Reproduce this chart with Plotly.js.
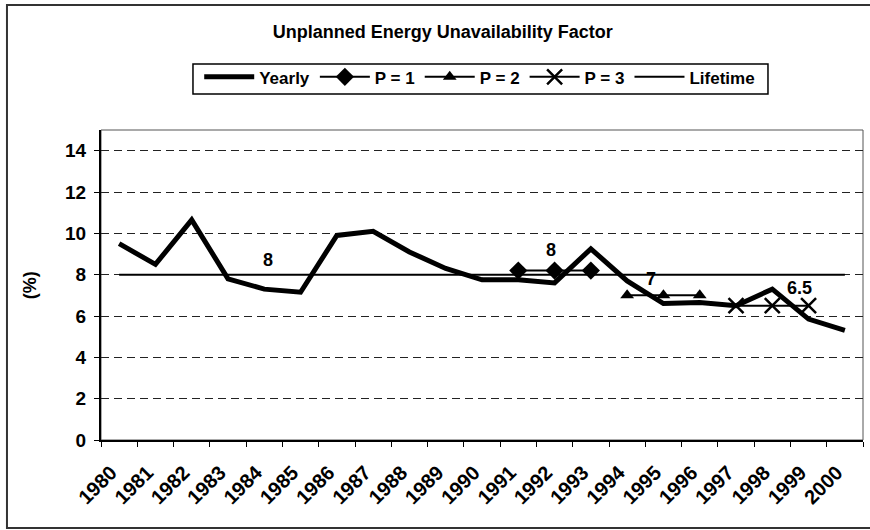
<!DOCTYPE html>
<html>
<head>
<meta charset="utf-8">
<script src="https://cdn.plot.ly/plotly-3.0.1.min.js"></script>
<style>
html,body{margin:0;padding:0;background:#fff;}
#chart{width:870px;height:530px;}
</style>
</head>
<body>
<div id="chart"></div>
<script>
var years = ["1980","1981","1982","1983","1984","1985","1986","1987","1988","1989","1990",
             "1991","1992","1993","1994","1995","1996","1997","1998","1999","2000"];
var yearly = [9.5, 8.5, 10.65, 7.8, 7.3, 7.15, 9.9, 10.1, 9.1, 8.3, 7.75,
              7.75, 7.6, 9.25, 7.7, 6.6, 6.65, 6.5, 7.3, 5.85, 5.3];
var lifetime = [8,8,8,8,8,8,8,8,8,8,8,8,8,8,8,8,8,8,8,8,8];
var p1Years = ["1991","1992","1993"];
var p1Vals = [8.2, 8.2, 8.2];
var p2Years = ["1994","1995","1996"];
var p2Vals = [7.0, 7.0, 7.0];
var p3Years = ["1997","1998","1999"];
var p3Vals = [6.5, 6.5, 6.5];
var labelTexts = ["8", "8", "7", "6.5"];
var labelX = [4.1, 11.9, 14.65, 18.75];
var labelY = [8.7, 9.2, 7.8, 7.35];

var FONT = "Liberation Sans, Arial, sans-serif";

var traces = [
  {x: years, y: yearly, name: "Yearly", type: "scatter", mode: "lines",
   line: {color: "#000", width: 5}},
  {x: p1Years, y: p1Vals, name: "P = 1", type: "scatter", mode: "lines+markers",
   line: {color: "#000", width: 2}, marker: {symbol: "diamond", size: 14, color: "#000"}},
  {x: p2Years, y: p2Vals, name: "P = 2", type: "scatter", mode: "lines+markers",
   line: {color: "#000", width: 2}, marker: {symbol: "triangle-up", size: 12, color: "#000"}},
  {x: p3Years, y: p3Vals, name: "P = 3", type: "scatter", mode: "lines+markers",
   line: {color: "#000", width: 2},
   marker: {symbol: "x-thin-open", size: 15, color: "#000", line: {color: "#000", width: 2.5}}},
  {x: years, y: lifetime, name: "Lifetime", type: "scatter", mode: "lines",
   line: {color: "#000", width: 2}}
];

var annotations = labelTexts.map(function(t, i){
  return {x: labelX[i], y: labelY[i], xref: "x", yref: "y", text: t, showarrow: false,
          font: {family: FONT, size: 18, color: "#000", weight: "bold"}};
});
annotations.push({xref: "paper", yref: "paper", x: -0.093, xanchor: "center", y: 0.5,
  yanchor: "middle", text: "(%)", textangle: -90,
  showarrow: false, font: {family: FONT, size: 18, color: "#000", weight: "bold"}});

var layout = {
  width: 870, height: 530,
  margin: {l: 101, r: 7, t: 130, b: 90},
  paper_bgcolor: "#fff", plot_bgcolor: "#fff",
  font: {family: FONT, color: "#000"},
  title: {text: "Unplanned Energy Unavailability Factor", x: 0.509, xanchor: "center",
          y: 0.94, yanchor: "middle", yref: "container",
          font: {family: FONT, size: 18, color: "#000", weight: "bold"}},
  showlegend: true,
  legend: {orientation: "h", x: 0.497, xanchor: "center", y: 1.228, yanchor: "top",
           borderwidth: 0, bgcolor: "rgba(0,0,0,0)",
           font: {family: FONT, size: 17, color: "#000", weight: "bold"},
           itemwidth: 50, tracegroupgap: 0},
  xaxis: {type: "category", categoryorder: "array", categoryarray: years,
          range: [-0.5, 20.5], showgrid: false, zeroline: false,
          showline: true, linecolor: "#000", linewidth: 2,
          ticks: "outside", tickson: "boundaries", ticklen: 5, tickcolor: "#000", tickwidth: 1,
          tickangle: -45, ticklabelstandoff: 11, ticklabelshift: -8,
          tickfont: {family: FONT, size: 20, color: "#000", weight: "bold"}},
  yaxis: {range: [0, 15], tickvals: [0,2,4,6,8,10,12,14], zeroline: false,
          showgrid: true, gridcolor: "#222", gridwidth: 1, griddash: "8px,5px",
          showline: true, linecolor: "#000", linewidth: 2,
          ticks: "outside", ticklen: 5, tickcolor: "#000", tickwidth: 1,
          ticklabelstandoff: 4,
          tickfont: {family: FONT, size: 19, color: "#000", weight: "bold"}},
  annotations: annotations,
  shapes: [
    {type: "rect", xref: "paper", yref: "paper", x0: 0, x1: 1, y0: 0, y1: 1,
     line: {color: "#555", width: 1}, layer: "below"},
    {type: "rect", xref: "paper", yref: "paper", x0: -0.1234, x1: 1.05, y0: -0.284, y1: 1.403,
     line: {color: "#333", width: 2}, layer: "below"},
    {type: "rect", xref: "paper", yref: "paper", x0: 0.1207, x1: 0.8753, y0: 1.116, y1: 1.213,
     line: {color: "#000", width: 1.5}, fillcolor: "#fff", layer: "below"}
  ]
};

Plotly.newPlot("chart", traces, layout, {displayModeBar: false, staticPlot: true});
</script>
</body>
</html>
